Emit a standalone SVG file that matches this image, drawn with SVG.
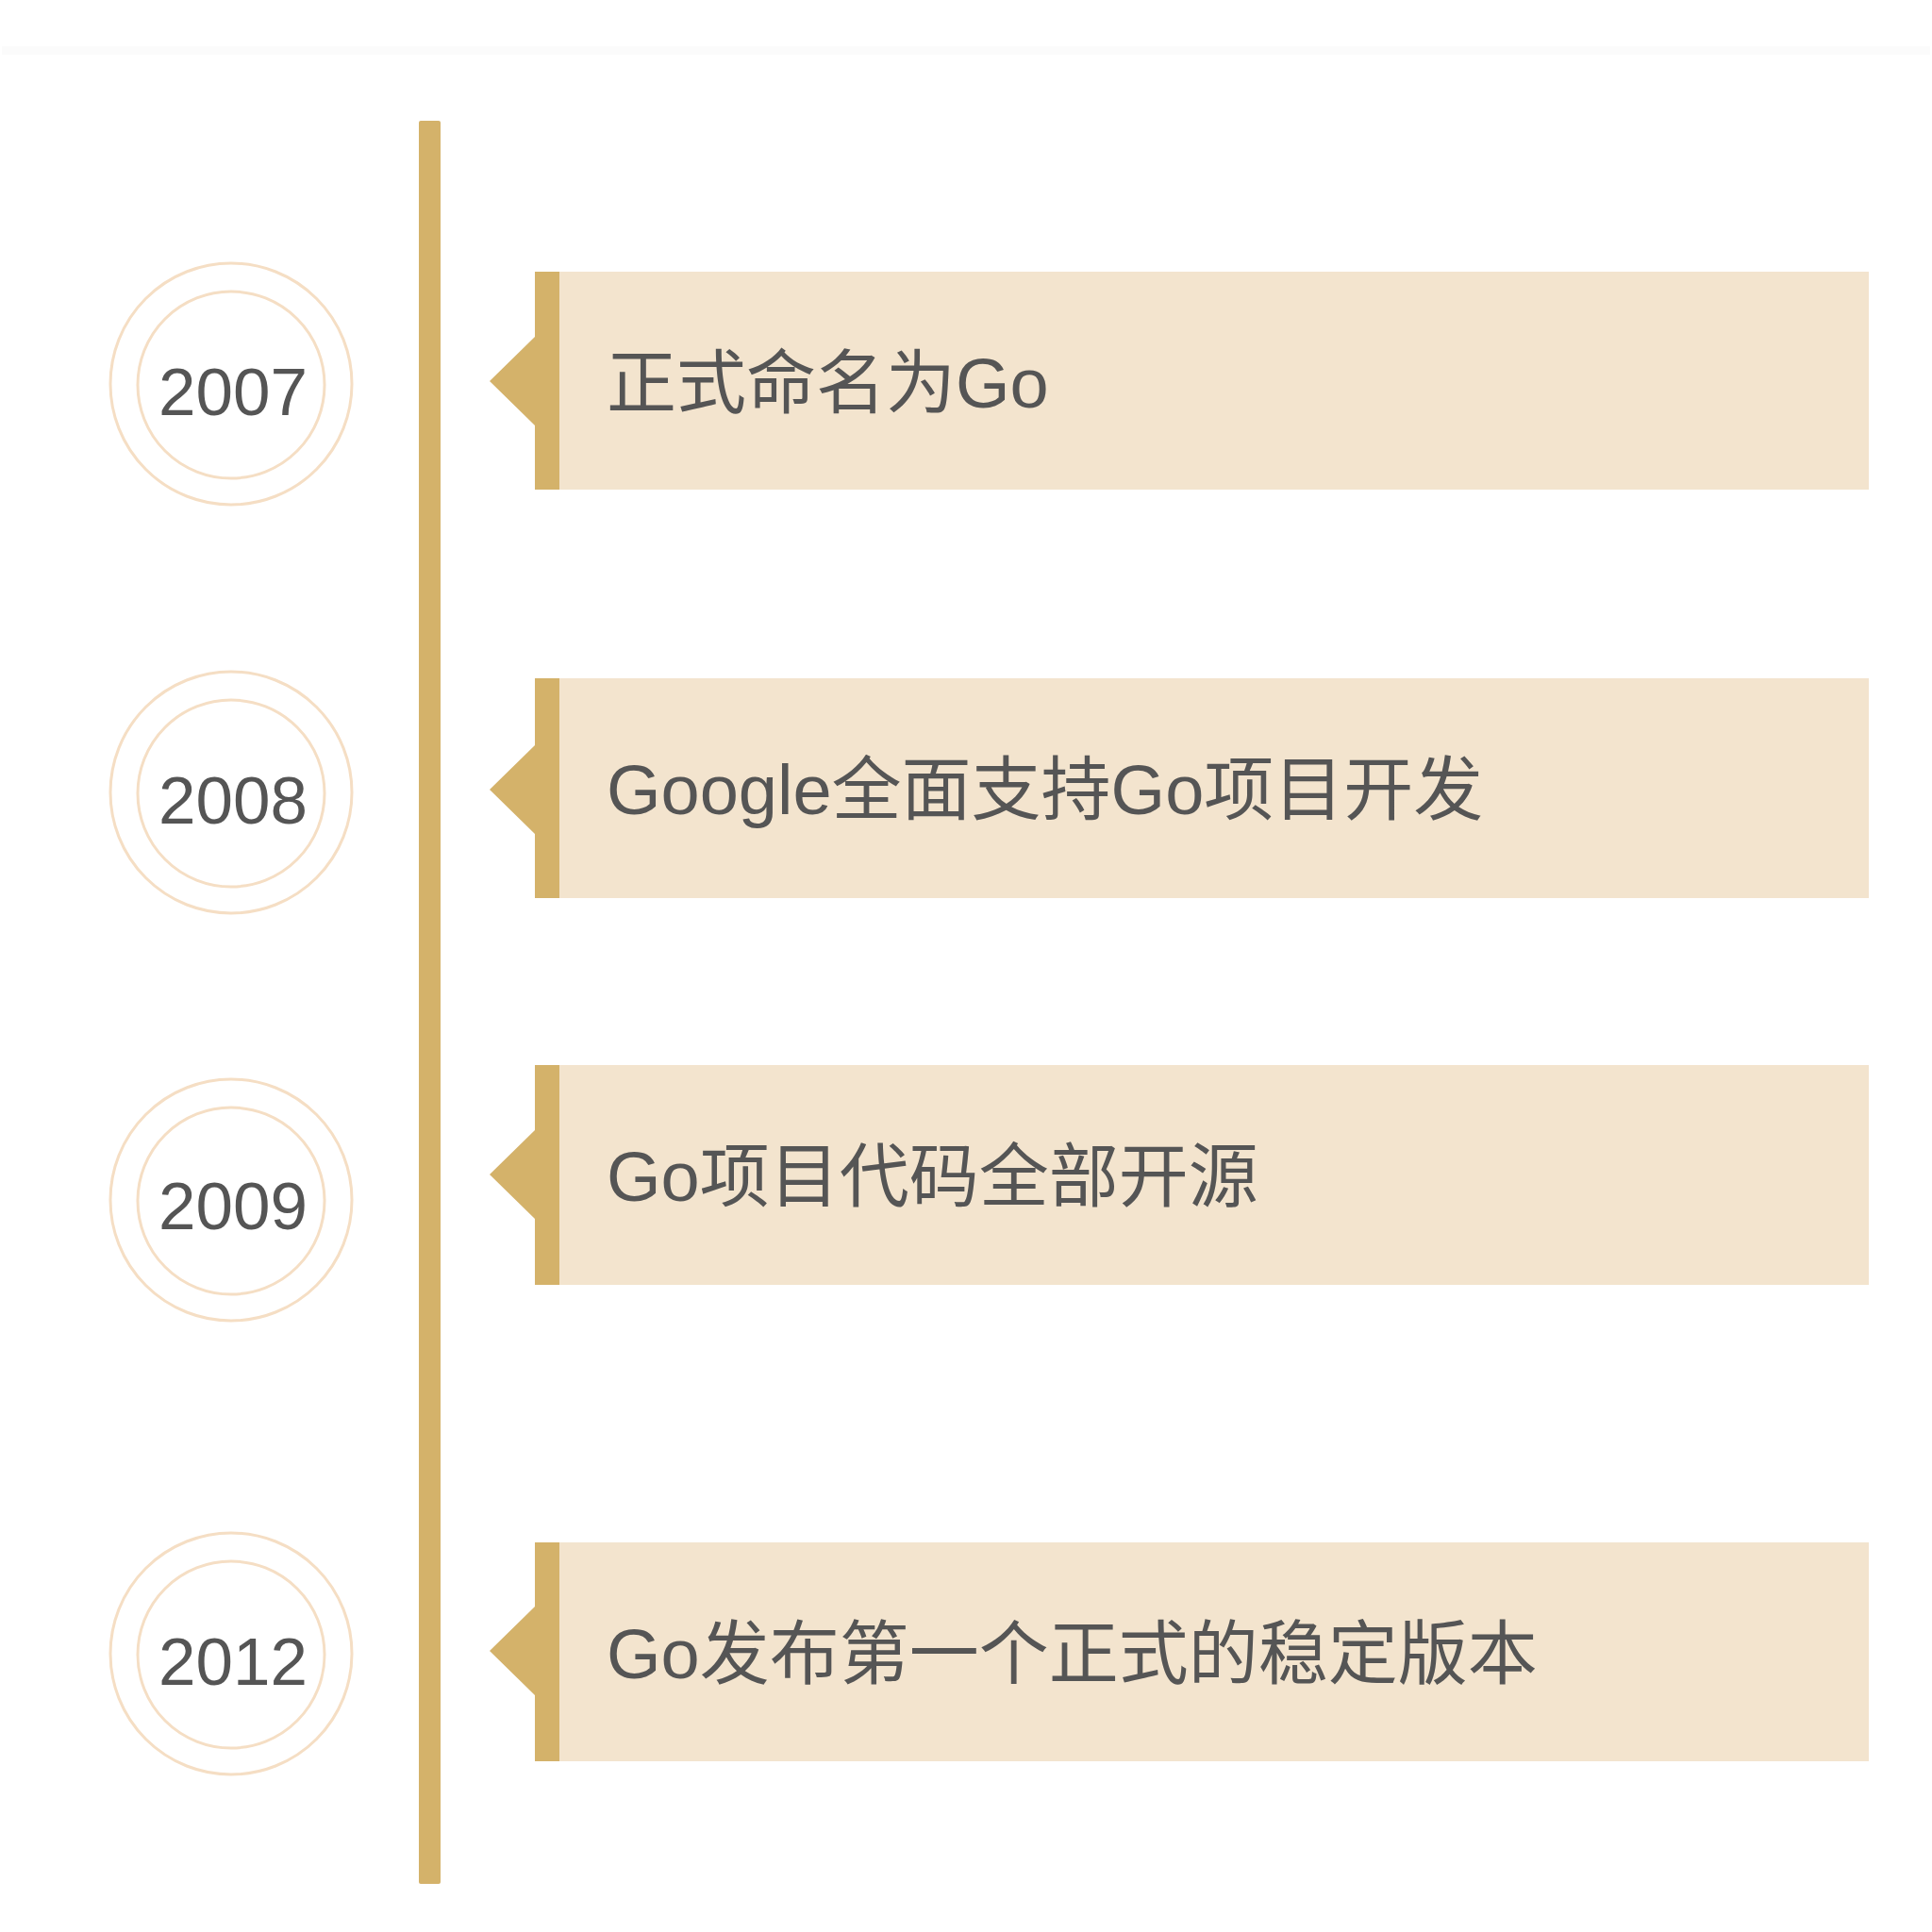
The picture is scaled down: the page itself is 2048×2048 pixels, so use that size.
<svg xmlns="http://www.w3.org/2000/svg" width="2048" height="2048" viewBox="0 0 2048 2048">
<style>
.bg{fill:#ffffff}
.bar{fill:#D4B26A}
.box{fill:#F3E4CE}
.accent{fill:#D4B26A}
.ring{fill:none;stroke:#F5DEC4;stroke-width:3}
.year{font-family:"Liberation Sans",Arial,sans-serif;font-size:71px;fill:#555555;text-anchor:middle}
.label{font-family:"Liberation Sans","Noto Sans CJK SC",sans-serif;font-size:74px;fill:#555555}
</style>
<rect class="bg" x="0" y="0" width="2048" height="2048"/>
<rect x="2" y="49" width="2044" height="9" fill="#FBFBFB"/>
<g id="connectors">
<rect class="bar" x="444" y="128" width="23" height="1869" rx="2"/>
</g>
<g id="node-2007">
<circle class="ring" cx="245" cy="407" r="128"/>
<circle class="ring" cx="245" cy="408" r="99"/>
<text class="year" x="247" y="440">2007</text>
</g>
<g id="event-2007">
<rect class="box" x="567" y="288" width="1414" height="231"/>
<polygon class="accent" points="567,288 593,288 593,519 567,519 567,451 519,404 567,357"/>
<text class="label" x="643" y="432">正式命名为Go</text>
</g>
<g id="node-2008">
<circle class="ring" cx="245" cy="840" r="128"/>
<circle class="ring" cx="245" cy="841" r="99"/>
<text class="year" x="247" y="873">2008</text>
</g>
<g id="event-2008">
<rect class="box" x="567" y="719" width="1414" height="233"/>
<polygon class="accent" points="567,719 593,719 593,952 567,952 567,884 519,837 567,790"/>
<text class="label" x="643" y="863">Google全面支持Go项目开发</text>
</g>
<g id="node-2009">
<circle class="ring" cx="245" cy="1272" r="128"/>
<circle class="ring" cx="245" cy="1273" r="99"/>
<text class="year" x="247" y="1303">2009</text>
</g>
<g id="event-2009">
<rect class="box" x="567" y="1129" width="1414" height="233"/>
<polygon class="accent" points="567,1129 593,1129 593,1362 567,1362 567,1292 519,1245 567,1198"/>
<text class="label" x="643" y="1273">Go项目代码全部开源</text>
</g>
<g id="node-2012">
<circle class="ring" cx="245" cy="1753" r="128"/>
<circle class="ring" cx="245" cy="1754" r="99"/>
<text class="year" x="247" y="1786">2012</text>
</g>
<g id="event-2012">
<rect class="box" x="567" y="1635" width="1414" height="232"/>
<polygon class="accent" points="567,1635 593,1635 593,1867 567,1867 567,1797 519,1750 567,1703"/>
<text class="label" x="643" y="1779">Go发布第一个正式的稳定版本</text>
</g>
</svg>
